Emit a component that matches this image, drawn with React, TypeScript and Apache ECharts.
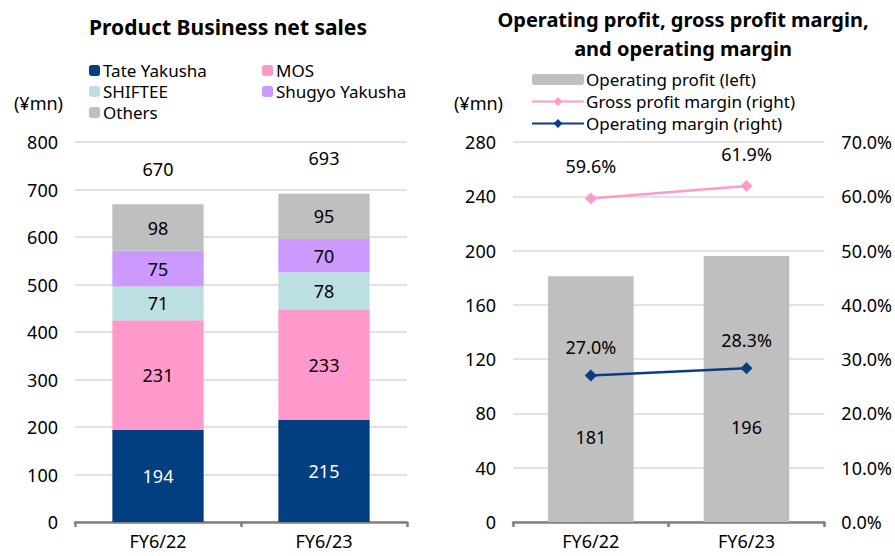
import React, { useEffect, useRef } from "react";
import * as echarts from "echarts";

const categories = ["FY6/22", "FY6/23"];
const tateYakusha = [194, 215];
const mos = [231, 233];
const shiftee = [71, 78];
const shugyoYakusha = [75, 70];
const others = [98, 95];
const totals = [670, 693];

const operatingProfit = [181, 196];
const grossMargin = [59.6, 61.9];
const operatingMargin = [27.0, 28.3];

const leftTicks = { min: 0, max: 800, interval: 100 };
const rightTicksL = { min: 0, max: 280, interval: 40 };
const rightTicksR = { min: 0, max: 70, interval: 10 };

const FONT = "'Noto Sans', 'Noto Sans CJK JP', sans-serif";

export default function App() {
  const ref = useRef<HTMLDivElement>(null);
  useEffect(() => {
    const chart = echarts.init(ref.current!, null, { renderer: "svg" });
    const axisLabel = { color: "#000", fontSize: 18, fontFamily: FONT };
    const split = { show: true, lineStyle: { color: "#D9D9D9", width: 1.5 } };
    const xAxisBase = {
      type: "category",
      data: categories,
      axisLine: { show: true, lineStyle: { color: "#808080", width: 2.5 } },
      axisTick: { show: true, length: 5, lineStyle: { color: "#808080", width: 2.5 } },
      axisLabel: { ...axisLabel, margin: 10 },
    };
    const stackLabel = (color: string) => ({
      show: true,
      position: "inside",
      color,
      fontSize: 18,
      fontFamily: FONT,
    });
    const legendText = { fontSize: 17, lineHeight: 21, color: "#000", padding: [0, 0, 0, -2], fontFamily: FONT };
    const barW = "55%";
    chart.setOption({
      animation: false,
      textStyle: { fontFamily: FONT },
      title: [
        {
          text: "Product Business net sales",
          left: 223,
          top: 11,
          textAlign: "center",
          textStyle: { fontSize: 21, fontWeight: "bold", color: "#000", fontFamily: FONT },
        },
        {
          text: "Operating profit, gross profit margin,\nand operating margin",
          left: 678,
          top: 0,
          textAlign: "center",
          textStyle: { fontSize: 20, fontWeight: "bold", color: "#000", lineHeight: 29, fontFamily: FONT },
        },
      ],
      legend: [
        {
          data: ["Tate Yakusha", "SHIFTEE", "Others"],
          orient: "vertical",
          left: 84,
          top: 55,
          padding: [5, 5, 5, 5],
          itemWidth: 11,
          itemHeight: 11,
          itemGap: 0,
          textStyle: legendText,
        },
        {
          data: ["MOS", "Shugyo Yakusha"],
          orient: "vertical",
          left: 257,
          top: 55,
          padding: [5, 5, 5, 5],
          itemWidth: 11,
          itemHeight: 11,
          itemGap: 0,
          textStyle: legendText,
        },
        {
          data: ["Operating profit (left)", "Gross profit margin (right)", "Operating margin (right)"],
          orient: "vertical",
          left: 526,
          top: 64,
          padding: [5, 5, 5, 5],
          itemWidth: 52,
          itemHeight: 11,
          itemGap: 1,
          textStyle: { ...legendText, padding: [0, 0, 0, -3] },
        },
      ],
      grid: [
        { left: 75, right: 488, top: 142, bottom: 34 },
        { left: 513, right: 66, top: 142, bottom: 34 },
      ],
      xAxis: [
        { ...xAxisBase, gridIndex: 0 },
        { ...xAxisBase, gridIndex: 1 },
      ],
      yAxis: [
        {
          type: "value",
          gridIndex: 0,
          ...leftTicks,
          axisLine: { show: false },
          axisTick: { show: false },
          splitLine: split,
          axisLabel: { ...axisLabel, margin: 17 },
          name: "(¥mn)",
          nameLocation: "end",
          nameGap: 30,
          nameTextStyle: { color: "#000", fontSize: 18, align: "right", padding: [0, 12, 0, 0], fontFamily: FONT },
        },
        {
          type: "value",
          gridIndex: 1,
          ...rightTicksL,
          axisLine: { show: false },
          axisTick: { show: false },
          splitLine: split,
          axisLabel: { ...axisLabel, margin: 17 },
          name: "(¥mn)",
          nameLocation: "end",
          nameGap: 30,
          nameTextStyle: { color: "#000", fontSize: 18, align: "right", padding: [0, 10, 0, 0], fontFamily: FONT },
        },
        {
          type: "value",
          gridIndex: 1,
          position: "right",
          ...rightTicksR,
          axisLine: { show: false },
          axisTick: { show: false },
          splitLine: { show: false },
          axisLabel: { ...axisLabel, margin: 17, formatter: (v: number) => v.toFixed(1) + "%" },
        },
      ],
      series: [
        { name: "Tate Yakusha", type: "bar", stack: "a", xAxisIndex: 0, yAxisIndex: 0, data: tateYakusha, barWidth: barW, itemStyle: { color: "#023F80" }, label: stackLabel("#fff") },
        { name: "MOS", type: "bar", stack: "a", xAxisIndex: 0, yAxisIndex: 0, data: mos, barWidth: barW, itemStyle: { color: "#FF99CC" }, label: stackLabel("#000") },
        { name: "SHIFTEE", type: "bar", stack: "a", xAxisIndex: 0, yAxisIndex: 0, data: shiftee, barWidth: barW, itemStyle: { color: "#BCE0E2" }, label: stackLabel("#000") },
        { name: "Shugyo Yakusha", type: "bar", stack: "a", xAxisIndex: 0, yAxisIndex: 0, data: shugyoYakusha, barWidth: barW, itemStyle: { color: "#CC99FF" }, label: stackLabel("#000") },
        { name: "Others", type: "bar", stack: "a", xAxisIndex: 0, yAxisIndex: 0, data: others, barWidth: barW, itemStyle: { color: "#BFBFBF" }, label: stackLabel("#000") },
        {
          name: "Total",
          type: "scatter",
          xAxisIndex: 0,
          yAxisIndex: 0,
          data: totals,
          symbolSize: 1,
          silent: true,
          itemStyle: { color: "rgba(0,0,0,0)", opacity: 1 },
          label: { show: true, position: "top", distance: 25, color: "#000", opacity: 1, fontSize: 18, fontFamily: FONT },
        },
        {
          name: "Operating profit (left)",
          type: "bar",
          xAxisIndex: 1,
          yAxisIndex: 1,
          data: operatingProfit,
          barWidth: barW,
          itemStyle: { color: "#BFBFBF" },
          label: { show: true, position: "inside", offset: [0, 38], color: "#000", fontSize: 18, fontFamily: FONT },
        },
        {
          name: "Gross profit margin (right)",
          type: "line",
          xAxisIndex: 1,
          yAxisIndex: 2,
          data: grossMargin,
          symbol: "diamond",
          symbolSize: 12,
          itemStyle: { color: "#FF99CC" },
          lineStyle: { color: "#FF99CC", width: 2.5 },
          label: { show: true, position: "top", distance: 17, color: "#000", fontSize: 18, fontFamily: FONT, formatter: (p: any) => p.value.toFixed(1) + "%" },
        },
        {
          name: "Operating margin (right)",
          type: "line",
          xAxisIndex: 1,
          yAxisIndex: 2,
          data: operatingMargin,
          symbol: "diamond",
          symbolSize: 12,
          itemStyle: { color: "#0B3D83" },
          lineStyle: { color: "#0B3D83", width: 2.5 },
          label: { show: true, position: "top", distance: 13, color: "#000", fontSize: 18, fontFamily: FONT, formatter: (p: any) => p.value.toFixed(1) + "%" },
        },
      ],
    });
    return () => chart.dispose();
  }, []);
  return <div ref={ref} style={{ width: 895, height: 556, position: "absolute", left: 0, top: 0, background: "#fff" }} />;
}
